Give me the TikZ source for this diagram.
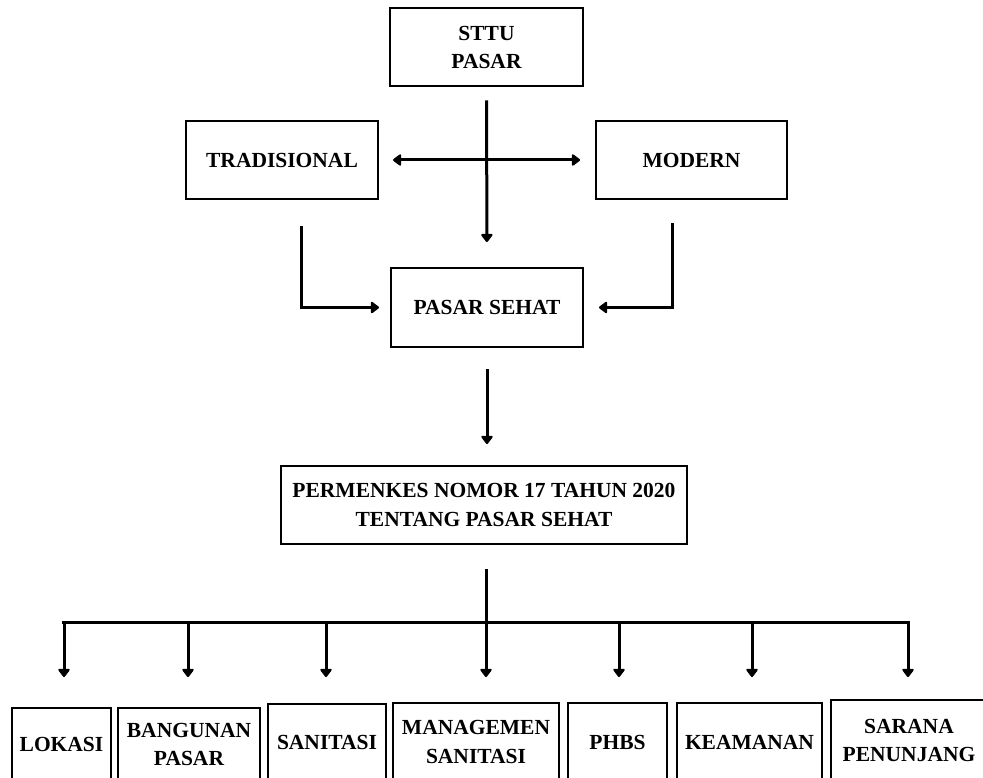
\documentclass[tikz,border=0pt]{standalone}
\usepackage{fontspec}
\setmainfont{Liberation Serif}
\usetikzlibrary{arrows.meta}

\begin{document}
\begin{tikzpicture}[x=1pt,y=-1pt,
		kotak/.style={draw,line width=2pt,align=center,inner sep=0pt,font=\bfseries\fontsize{21.5}{28.5}\selectfont},
		garis/.style={line width=3pt},
		ujung/.tip={Triangle[length=9pt,width=13pt,round]},
		panah/.style={garis,-ujung}]
			\useasboundingbox (0,0) rectangle (983,778);
			
			\node[kotak,minimum width=193,minimum height=78] (sttu) at (486.5,47.5) {STTU\\PASAR};
			\node[kotak,minimum width=192,minimum height=78] (trad) at (282,160) {TRADISIONAL};
			\node[kotak,minimum width=191,minimum height=78] (modern) at (691.5,160) {MODERN};
			\node[kotak,minimum width=192,minimum height=79] (sehat) at (487,307.5) {PASAR SEHAT};
			\node[kotak,minimum width=406,minimum height=78] (perm) at (484,505) {PERMENKES NOMOR 17 TAHUN 2020\\TENTANG PASAR SEHAT};
			
			% kotak bawah
			\node[kotak,minimum width=99,minimum height=73] (lokasi) at (61.5,744.5) {LOKASI};
			\node[kotak,minimum width=142,minimum height=73] (bangunan) at (189,744.5) {BANGUNAN\\PASAR};
			\node[kotak,minimum width=118,minimum height=77] (sanitasi) at (327,742.5) {SANITASI};
			\node[kotak,minimum width=166,minimum height=78] (manajemen) at (476,742) {MANAGEMEN\\SANITASI};
			\node[kotak,minimum width=99,minimum height=78] (phbs) at (617.5,742) {PHBS};
			\node[kotak,minimum width=145,minimum height=78] (keamanan) at (749.5,742) {KEAMANAN};
			\node[kotak,minimum width=156,minimum height=81] (sarana) at (909,740.5) {SARANA\\PENUNJANG};
			
			\draw[panah,shorten <=13pt,shorten >=25pt] (sttu) -- (sehat);
			\draw[garis,ujung-ujung,shorten <=14pt,shorten >=15pt] (trad) -- (modern);
			\draw[panah] ([xshift=19pt,yshift=-26pt]trad.south) |- ([xshift=-11pt]sehat.west);
			\draw[panah] ([xshift=-19.5pt,yshift=-23pt]modern.south) |- ([xshift=15pt]sehat.east);
			\draw[panah,shorten <=21pt,shorten >=21pt] (sehat) -- (sehat |- perm.north);
			
			\coordinate (bus) at (486,622);
			\draw[garis] ([yshift=-24pt]perm.south -| bus) -- (bus);
			\foreach \n/\x in {lokasi/64,bangunan/188,sanitasi/326,manajemen/486,phbs/619,keamanan/752,sarana/908}
				\coordinate (t-\n) at (\x,622);
			\draw[garis] ([xshift=-2pt]t-lokasi) -- ([xshift=1.5pt]t-sarana);
			\foreach \n in {lokasi,bangunan,sanitasi,manajemen,phbs,keamanan,sarana}
				\draw[panah] (t-\n) -- ++(0,55);
			
		\end{tikzpicture}
\end{document}
